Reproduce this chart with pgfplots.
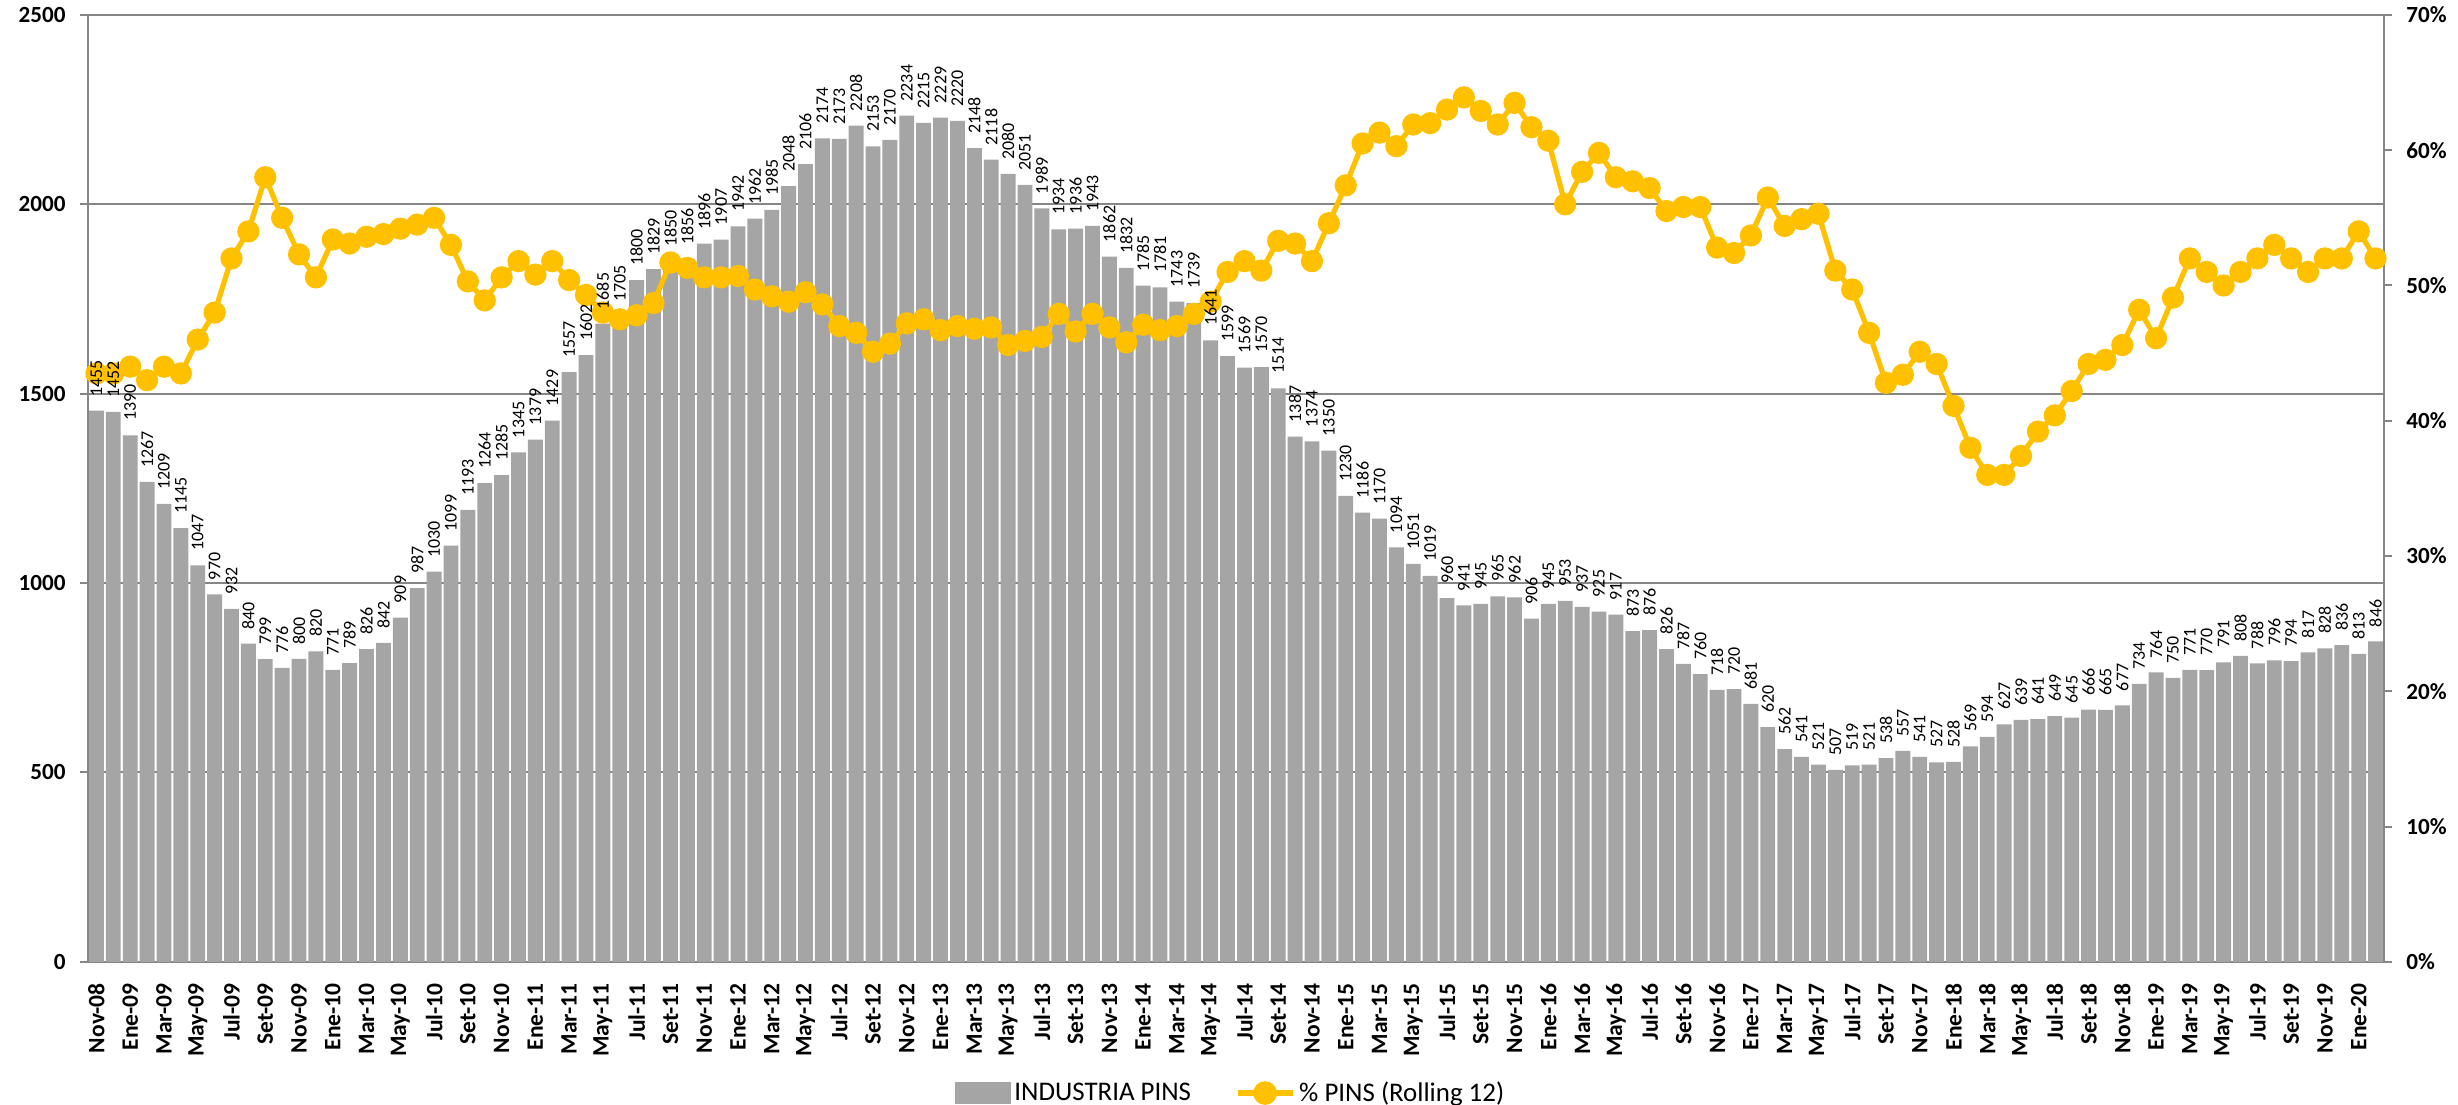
\documentclass[border=0pt]{standalone}
\usepackage{fontspec}
\setmainfont{Carlito}
\usepackage{pgfplots}
\pgfplotsset{compat=1.18}
\usepackage{pgfplotstable}
\definecolor{bargray}{HTML}{A5A5A5}
\definecolor{linegold}{HTML}{FFC000}
\definecolor{gridgray}{HTML}{868686}

\pgfplotstableread{
x y
1 1455
2 1452
3 1390
4 1267
5 1209
6 1145
7 1047
8 970
9 932
10 840
11 799
12 776
13 800
14 820
15 771
16 789
17 826
18 842
19 909
20 987
21 1030
22 1099
23 1193
24 1264
25 1285
26 1345
27 1379
28 1429
29 1557
30 1602
31 1685
32 1705
33 1800
34 1829
35 1850
36 1856
37 1896
38 1907
39 1942
40 1962
41 1985
42 2048
43 2106
44 2174
45 2173
46 2208
47 2153
48 2170
49 2234
50 2215
51 2229
52 2220
53 2148
54 2118
55 2080
56 2051
57 1989
58 1934
59 1936
60 1943
61 1862
62 1832
63 1785
64 1781
65 1743
66 1739
67 1641
68 1599
69 1569
70 1570
71 1514
72 1387
73 1374
74 1350
75 1230
76 1186
77 1170
78 1094
79 1051
80 1019
81 960
82 941
83 945
84 965
85 962
86 906
87 945
88 953
89 937
90 925
91 917
92 873
93 876
94 826
95 787
96 760
97 718
98 720
99 681
100 620
101 562
102 541
103 521
104 507
105 519
106 521
107 538
108 557
109 541
110 527
111 528
112 569
113 594
114 627
115 639
116 641
117 649
118 645
119 666
120 665
121 677
122 734
123 764
124 750
125 771
126 770
127 791
128 808
129 788
130 796
131 794
132 817
133 828
134 836
135 813
136 846
}\bars

\pgfplotstableread{
x p
1 43.5
2 43.5
3 44.0
4 43.0
5 44.0
6 43.5
7 46.0
8 48.0
9 52.0
10 54.0
11 58.0
12 55.0
13 52.3
14 50.6
15 53.4
16 53.1
17 53.6
18 53.8
19 54.2
20 54.5
21 55.0
22 53.0
23 50.3
24 48.9
25 50.6
26 51.8
27 50.8
28 51.8
29 50.4
30 49.3
31 48.0
32 47.5
33 47.8
34 48.7
35 51.7
36 51.3
37 50.6
38 50.6
39 50.7
40 49.7
41 49.2
42 48.8
43 49.5
44 48.6
45 47.0
46 46.5
47 45.1
48 45.7
49 47.2
50 47.5
51 46.7
52 47.0
53 46.8
54 46.9
55 45.6
56 45.9
57 46.2
58 47.9
59 46.6
60 47.9
61 46.9
62 45.8
63 47.1
64 46.7
65 47.0
66 47.9
67 48.8
68 51.0
69 51.8
70 51.1
71 53.3
72 53.1
73 51.8
74 54.6
75 57.4
76 60.5
77 61.3
78 60.3
79 61.9
80 62.0
81 63.0
82 63.9
83 62.9
84 61.9
85 63.5
86 61.7
87 60.7
88 56.0
89 58.4
90 59.8
91 58.0
92 57.7
93 57.2
94 55.5
95 55.8
96 55.8
97 52.8
98 52.4
99 53.7
100 56.5
101 54.4
102 54.9
103 55.3
104 51.1
105 49.7
106 46.5
107 42.8
108 43.4
109 45.1
110 44.2
111 41.1
112 38.0
113 36.0
114 36.0
115 37.4
116 39.2
117 40.4
118 42.2
119 44.2
120 44.5
121 45.6
122 48.2
123 46.1
124 49.1
125 52.0
126 51.0
127 50.0
128 51.0
129 52.0
130 53.0
131 52.0
132 51.0
133 52.0
134 52.0
135 54.0
136 52.0
}\pins

\begin{document}
\begin{tikzpicture}
\useasboundingbox (-44bp,-71.55bp) rectangle (1185bp,480.95bp);
% bars
\begin{axis}[
  at={(0,0)}, anchor=south west,
  width=1148bp, height=473.5bp, scale only axis,
  xmin=0.5, xmax=136.5, ymin=0, ymax=2500,
  ytick={0,500,...,2500},
  xtick={1,3,...,135},
  xticklabels={Nov-08,Ene-09,Mar-09,May-09,Jul-09,Set-09,Nov-09,Ene-10,Mar-10,May-10,Jul-10,Set-10,Nov-10,Ene-11,Mar-11,May-11,Jul-11,Set-11,Nov-11,Ene-12,Mar-12,May-12,Jul-12,Set-12,Nov-12,Ene-13,Mar-13,May-13,Jul-13,Set-13,Nov-13,Ene-14,Mar-14,May-14,Jul-14,Set-14,Nov-14,Ene-15,Mar-15,May-15,Jul-15,Set-15,Nov-15,Ene-16,Mar-16,May-16,Jul-16,Set-16,Nov-16,Ene-17,Mar-17,May-17,Jul-17,Set-17,Nov-17,Ene-18,Mar-18,May-18,Jul-18,Set-18,Nov-18,Ene-19,Mar-19,May-19,Jul-19,Set-19,Nov-19,Ene-20},
  axis x line*=bottom, axis y line*=left,
  axis line style={draw=gridgray, line width=1bp, -},
  ymajorgrids, grid style={draw=gridgray, line width=1bp},
  ytick style={draw=gridgray, line width=1bp},
  xtick style={draw=none},
  tick align=outside, major tick length=4bp,
  /pgf/number format/assume math mode=true,
  /pgf/number format/1000 sep={},
  scaled y ticks=false,
  yticklabel style={font=\fontsize{11.6}{12}\selectfont\bfseries, anchor=east, inner xsep=0pt, xshift=-7bp},
  xticklabel style={rotate=90, anchor=east, font=\fontsize{11.8}{12}\selectfont\bfseries, inner xsep=6.5bp, inner ysep=0pt},
  clip=false,
]
\addplot[ybar, bar width=0.88, fill=bargray, draw=none] table[x=x,y=y]{\bars};
\end{axis}
% line
\begin{axis}[
  at={(0,0)}, anchor=south west,
  width=1148bp, height=473.5bp, scale only axis,
  xmin=0.5, xmax=136.5, ymin=0, ymax=70,
  ytick={0,10,...,70},
  axis x line=none, axis y line*=right,
  axis line style={draw=gridgray, line width=1bp, -},
  ytick style={draw=gridgray, line width=1bp},
  tick align=outside, major tick length=4bp,
  /pgf/number format/assume math mode=true,
  yticklabel={\pgfmathprintnumber{\tick}\%},
  yticklabel style={font=\fontsize{11.6}{12}\selectfont\bfseries, anchor=west, inner xsep=0pt, xshift=7bp},
  clip=false,
  legend style={at={(0.498,-0.1385)}, anchor=center, draw=none, fill=none,
    font=\fontsize{13.5}{14}\selectfont, legend columns=2,
    /tikz/every even column/.append style={column sep=20bp}},
]
\addlegendimage{legend image code/.code={\fill[bargray] (0bp,-5.25bp) rectangle (27.5bp,5.25bp);}}
\addlegendentry{INDUSTRIA PINS}
\addplot[linegold, line width=2.6bp, mark=*, mark size=4.25bp,
  mark options={draw=none, fill=linegold},
  legend image code/.code={\draw[linegold, line width=2.6bp] (0bp,0bp) -- (27.5bp,0bp); \fill[linegold] (13.75bp,0bp) circle (4.6bp);}]
  table[x=x,y=p]{\pins};
\addlegendentry{\% PINS (Rolling 12)}
\end{axis}
% bar value labels on top
\begin{axis}[
  at={(0,0)}, anchor=south west,
  width=1148bp, height=473.5bp, scale only axis,
  xmin=0.5, xmax=136.5, ymin=0, ymax=2500,
  hide axis, clip=false,
  /pgf/number format/assume math mode=true,
  /pgf/number format/1000 sep={},
]
\addplot[ybar, bar width=0.88, fill=none, draw=none,
  nodes near coords, point meta=y,
  nodes near coords style={rotate=90, anchor=west, font=\fontsize{9}{9.5}\selectfont, inner xsep=7bp, inner ysep=0pt, text=black}]
  table[x=x,y=y]{\bars};
\end{axis}
\end{tikzpicture}
\end{document}
